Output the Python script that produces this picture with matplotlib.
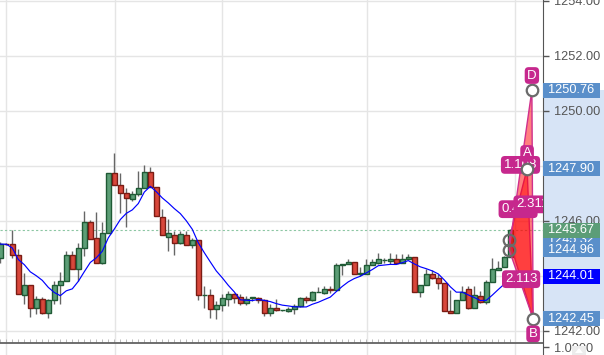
import matplotlib
matplotlib.use("Agg")
import matplotlib.pyplot as plt
import matplotlib.transforms as mtrans
from matplotlib.patches import Rectangle, Polygon
import numpy as np
import pandas as pd

plt.rcParams['font.family'] = ['Liberation Sans', 'DejaVu Sans']

# ---------------- data ----------------
opens = [1244.65, 1245.18, 1245.15, 1244.75, 1243.31, 1243.67, 1242.85, 1243.15, 1242.67, 1243.12,
         1243.66, 1243.82, 1244.75, 1244.24, 1245.03, 1245.96, 1245.37, 1244.46, 1245.55, 1247.73,
         1247.30, 1247.01, 1246.79, 1246.97, 1247.21, 1247.79, 1247.24, 1246.16, 1245.43, 1245.50,
         1245.19, 1245.50, 1245.12, 1245.31, 1243.30, 1243.30, 1242.79, 1242.93, 1243.17, 1243.33,
         1243.25, 1243.01, 1243.21, 1243.21, 1243.12, 1242.64, 1242.85, 1242.75, 1242.73, 1242.79,
         1242.90, 1243.19, 1243.12, 1243.42, 1243.39, 1243.51, 1243.48, 1244.41, 1244.42, 1244.51,
         1244.08, 1244.08, 1244.39, 1244.48, 1244.57, 1244.55, 1244.61, 1244.48, 1244.61, 1244.69,
         1243.43, 1243.66, 1244.06, 1243.94, 1243.73, 1242.72, 1242.64, 1243.12, 1243.52, 1242.85,
         1243.27, 1243.07, 1243.78, 1244.21, 1244.33, 1244.69]
highs = [1245.24, 1245.20, 1245.66, 1244.97, 1244.10, 1243.67, 1243.27, 1243.24, 1243.16, 1243.82,
         1244.15, 1244.91, 1244.91, 1245.21, 1246.36, 1246.04, 1246.34, 1245.96, 1247.73, 1248.46,
         1247.73, 1247.21, 1247.09, 1247.82, 1248.04, 1247.96, 1247.24, 1246.43, 1246.06, 1245.64,
         1245.64, 1245.64, 1245.39, 1245.31, 1243.64, 1243.53, 1243.09, 1243.33, 1243.45, 1243.39,
         1243.33, 1243.27, 1243.25, 1243.25, 1243.15, 1242.97, 1243.17, 1242.78, 1242.87, 1242.97,
         1243.24, 1243.27, 1243.45, 1243.60, 1243.64, 1243.64, 1244.47, 1244.44, 1244.61, 1244.51,
         1244.33, 1244.61, 1244.61, 1244.83, 1244.67, 1244.83, 1244.79, 1244.81, 1244.81, 1244.69,
         1243.66, 1244.27, 1244.21, 1244.06, 1243.73, 1243.48, 1243.12, 1243.64, 1243.64, 1243.64,
         1243.45, 1243.85, 1244.67, 1244.55, 1244.73, 1245.71]
lows = [1244.47, 1245.13, 1244.67, 1243.33, 1242.97, 1242.51, 1242.61, 1242.62, 1242.48, 1242.97,
        1242.98, 1243.82, 1244.24, 1243.82, 1244.73, 1245.36, 1244.46, 1244.44, 1245.55, 1247.30,
        1246.30, 1245.78, 1246.73, 1246.91, 1247.21, 1247.24, 1246.18, 1245.48, 1244.91, 1244.75,
        1245.16, 1245.12, 1245.03, 1243.13, 1242.83, 1242.48, 1242.43, 1242.73, 1242.91, 1243.03,
        1242.93, 1242.93, 1243.09, 1243.03, 1242.55, 1242.55, 1242.73, 1242.73, 1242.70, 1242.61,
        1242.87, 1243.01, 1243.09, 1243.40, 1243.33, 1243.39, 1243.48, 1244.03, 1244.42, 1244.08,
        1244.00, 1244.06, 1244.39, 1244.42, 1244.48, 1244.42, 1244.42, 1244.48, 1244.61, 1243.43,
        1243.25, 1243.66, 1243.88, 1243.54, 1242.72, 1242.64, 1242.64, 1243.12, 1242.81, 1242.85,
        1243.02, 1242.98, 1243.78, 1244.21, 1244.33, 1244.69]
closes = [1245.16, 1245.15, 1244.75, 1243.33, 1243.67, 1242.85, 1243.15, 1242.67, 1243.12, 1243.66,
          1243.82, 1244.75, 1244.24, 1245.03, 1245.96, 1245.36, 1244.46, 1245.57, 1247.73, 1247.30,
          1247.01, 1246.83, 1246.97, 1247.21, 1247.79, 1247.24, 1246.18, 1245.48, 1245.55, 1245.19,
          1245.52, 1245.12, 1245.31, 1243.30, 1243.31, 1242.79, 1242.93, 1243.19, 1243.33, 1243.21,
          1243.01, 1243.17, 1243.22, 1243.12, 1242.64, 1242.85, 1242.75, 1242.76, 1242.79, 1242.90,
          1243.19, 1243.12, 1243.42, 1243.43, 1243.52, 1243.49, 1244.39, 1244.42, 1244.51, 1244.08,
          1244.09, 1244.39, 1244.51, 1244.61, 1244.58, 1244.61, 1244.48, 1244.61, 1244.69, 1243.43,
          1243.66, 1244.06, 1243.94, 1243.73, 1242.72, 1242.64, 1243.12, 1243.43, 1242.85, 1243.31,
          1243.07, 1243.78, 1244.24, 1244.28, 1244.69, 1245.67]
ma_period = 8
ma_label_value = 1244.01   # value printed in the MA price box

# harmonic pattern points (bar index, price)
pat_names = ['X', 'A', 'B', 'C', 'D']
pat_index = [84.8, 87.8, 88.8, 84.8, 88.6]
pat_price = [1245.32, 1247.90, 1242.45, 1244.96, 1250.76]
ratio_pairs = [('X', 'B'), ('A', 'C'), ('B', 'D'), ('X', 'D')]
ratio_texts = ['2.113', '0.461', '2.311', '1.108']
shown_point_labels = ['D', 'A', 'B']

y_ticks = [1242, 1244, 1246, 1248, 1250, 1252, 1254]
time_grid = [0.95, 19.12, 36.95, 61.12, 85.78]

# ---------------- figure ----------------
W, H = 604, 355
FS = 9.2
fig = plt.figure(figsize=(W / 100, H / 100), dpi=100)
ax = fig.add_axes([0, 13 / H, 543 / W, 342 / H])
ax2 = fig.add_axes([0, 0, 543 / W, 12 / H])

n = len(closes)
idx = np.arange(n)
ax.set_xlim(-0.05, 90.45)
ax.set_ylim(1241.60, 1254.036)

GREEN_F, GREEN_E = '#5c9e76', '#1f5a35'
RED_F, RED_E = '#d8473b', '#7a1c14'

for i in range(n):
    o, h, l, c = opens[i], highs[i], lows[i], closes[i]
    up = c >= o
    ax.vlines(i, l, h, color='#666666', lw=1, zorder=2)
    bottom = min(o, c)
    height = max(abs(c - o), 0.015)
    ax.add_patch(Rectangle((i - 0.37, bottom), 0.74, height,
                           facecolor=GREEN_F if up else RED_F,
                           edgecolor=GREEN_E if up else RED_E, lw=1, zorder=2.2))

ma = pd.Series(closes).rolling(ma_period, min_periods=1).mean()
ax.plot(idx, ma, color='#0000ff', lw=0.85, zorder=3)

last_close = closes[-1]
ax.axhline(last_close, color='#8cc6a3', lw=0.8, ls=(0, (2, 2)), zorder=1.8)

# grid / axes styling
ax.set_yticks(y_ticks)
ax.set_yticklabels(['%.2f' % v for v in y_ticks])
ax.set_xticks(time_grid)
ax.set_xticklabels([])
ax.set_xticks(idx, minor=True)
ax.grid(True, which='major', color='#e5e5e5', lw=1)
ax.set_axisbelow(True)
ax.yaxis.tick_right()
ax.tick_params(axis='y', length=4, width=1, color='#555555', labelcolor='#555555',
               labelsize=FS, pad=4)
ax.tick_params(axis='x', which='major', length=0)
ax.tick_params(axis='x', which='minor', direction='in', length=2, width=0.6, color='#b0b0b0')
for s in ['left', 'top', 'bottom']:
    ax.spines[s].set_visible(False)
ax.spines['right'].set_color('#555555')

# pattern
P = {nm: (x, y) for nm, x, y in zip(pat_names, pat_index, pat_price)}
tri_col = (1.0, 0.0, 0.0, 0.5)
edge_col = '#d0308c'
ax.add_patch(Polygon([P['X'], P['A'], P['B']], closed=True, fc=tri_col, ec=edge_col, lw=1, zorder=4))
ax.add_patch(Polygon([P['B'], P['C'], P['D']], closed=True, fc=tri_col, ec=edge_col, lw=1, zorder=4))

MAG = '#c6288d'
for k, ((a, b), t) in enumerate(zip(ratio_pairs, ratio_texts)):
    mx = (P[a][0] + P[b][0]) / 2
    my = (P[a][1] + P[b][1]) / 2
    ax.text(mx, my, t, ha='center', va='center', color='white', fontsize=9.5,
            bbox=dict(boxstyle='round,pad=0.22,rounding_size=0.3', fc=MAG, ec='none'),
            clip_on=True, zorder=6 + 0.1 * k)

for nm in pat_names:
    x, y = P[nm]
    fc = 'none' if nm in ('X', 'C') else 'white'
    ax.plot([x], [y], marker='o', ms=8.3, mfc=fc, mec='#6a6a6a', mew=1.6, zorder=7,
            clip_on=False)

offsets = {'D': 10.5, 'A': 11, 'B': -11}
for nm in shown_point_labels:
    x, y = P[nm]
    ax.annotate(nm, xy=(x, y), xytext=(0, offsets[nm]), textcoords='offset points',
                ha='center', va='center', color='white', fontsize=9.5,
                bbox=dict(boxstyle='round,pad=0.18,rounding_size=0.3', fc=MAG, ec='none'),
                zorder=8, annotation_clip=False)

# right axis price boxes
bt = mtrans.blended_transform_factory(ax.transAxes, ax.transData)
ax.add_patch(Rectangle((1.0, pat_price[2]), 61 / 543, pat_price[4] - pat_price[2],
                       transform=bt, fc='#d7e4f6', ec='none', clip_on=False, zorder=0.3))

ma_last = float(ma.iloc[-1])
box_list = [
    (pat_price[4], pat_price[4], '#5a8fca'),
    (pat_price[1], pat_price[1], '#5a8fca'),
    (pat_price[0], pat_price[0], '#5a8fca'),
    (last_close, last_close, '#5c9d77'),
    (pat_price[3], pat_price[3], '#5a8fca'),
    (ma_last, ma_label_value, '#0000ff'),
    (pat_price[2], pat_price[2], '#5a8fca'),
]
half = 7.5 / 27.5
for k, (v, shown, col) in enumerate(box_list):
    z = 5 + 0.1 * k
    ax.add_patch(Rectangle((1.0, v - half), 57 / 543, 2 * half, transform=bt,
                           fc=col, ec='none', clip_on=False, zorder=z))
    ax.text(1.0 + 5 / 543, v, '%.2f' % shown, transform=bt, ha='left', va='center',
            color='white', fontsize=FS, zorder=z + 0.05, clip_on=False)

# bottom small pane
ax2.set_xlim(-0.05, 90.45)
ax2.set_ylim(1 / 3, 4 / 3)
ax2.set_yticks([1.0])
ax2.set_yticklabels(['1.0000'])
ax2.yaxis.tick_right()
ax2.tick_params(axis='y', length=4, width=1, color='#555555', labelcolor='#555555',
                labelsize=FS, pad=4)
ax2.set_xticks(time_grid)
ax2.set_xticklabels([])
ax2.tick_params(axis='x', length=0)
ax2.grid(True, axis='x', color='#e5e5e5', lw=1)
for s in ['left', 'bottom']:
    ax2.spines[s].set_visible(False)
ax2.spines['top'].set_color('#555555')
ax2.spines['top'].set_linewidth(1.2)
ax2.spines['right'].set_color('#555555')

fig.add_artist(Rectangle((572 / W, 0), 14 / W, 9 / H, transform=fig.transFigure,
                         fc='#ececec', ec='none'))
fig.add_artist(Polygon([(575 / W, 2 / H), (579 / W, 7 / H), (583 / W, 2 / H)],
                       closed=True, transform=fig.transFigure, fc='white', ec='none'))

fig.savefig('out.png', dpi=100)
